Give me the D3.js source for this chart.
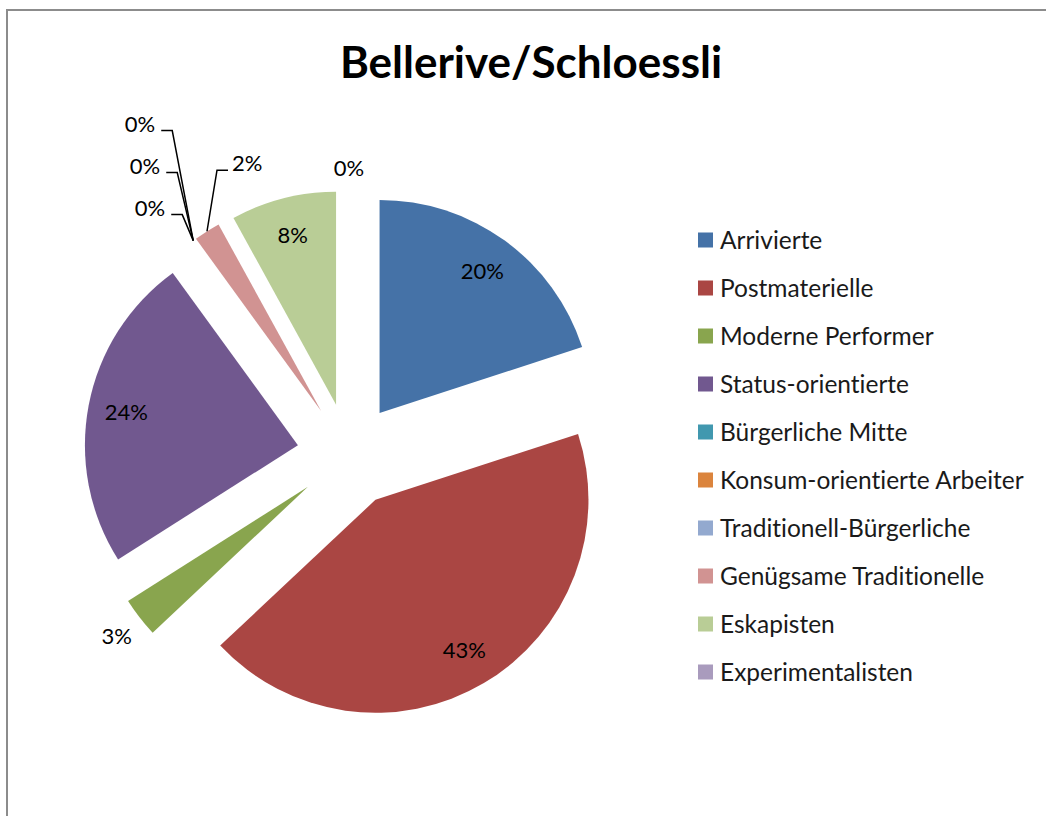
<!DOCTYPE html>
<html>
<head>
<meta charset="utf-8">
<script src="https://cdn.jsdelivr.net/npm/d3@7"></script>
<style>
  body { margin: 0; background: #fff; }
  text { font-family: Lato, "Open Sans", sans-serif; font-variant-ligatures: none; }
</style>
</head>
<body>
<div id="chart"></div>
<script>
var categories = ["Arrivierte", "Postmaterielle", "Moderne Performer", "Status-orientierte",
  "Bürgerliche Mitte", "Konsum-orientierte Arbeiter", "Traditionell-Bürgerliche",
  "Genügsame Traditionelle", "Eskapisten", "Experimentalisten"];
var shares = [20, 43, 3, 24, 0, 0, 0, 2, 8, 0];
var colours = ["#4572A7", "#AA4643", "#89A54E", "#71588F", "#4198AF",
  "#DB843D", "#93A9CF", "#D19392", "#B9CD96", "#A99BBD"];
var title = "Bellerive/Schloessli";

function init() {
  var w = 1046;
  var h = 816;

  var cx = 349, cy = 455;
  var r = 213;
  var explode = 52;

  var svg = d3.select("#chart")
    .append("svg")
    .attr("width", w)
    .attr("height", h);

  // chart frame (only top and left edges visible)
  svg.append("path")
    .attr("d", "M7," + (h + 5) + " V10 H" + (w + 5))
    .attr("fill", "none")
    .attr("stroke", "#8c8c8c")
    .attr("stroke-width", 2);

  svg.append("text")
    .attr("x", 531)
    .attr("y", 78)
    .attr("text-anchor", "middle")
    .style("font-size", "44px")
    .style("font-weight", "bold")
    .text(title);

  var data = categories.map(function(c, i) {
    return { name: c, value: shares[i], colour: colours[i] };
  });

  var pie = d3.pie()
    .sort(null)
    .value(function(d) { return d.value; });

  var arcs = pie(data);

  var arc = d3.arc()
    .innerRadius(0)
    .outerRadius(r);

  function mid(d) { return (d.startAngle + d.endAngle) / 2; }
  function dir(a) { return [Math.sin(a), -Math.cos(a)]; }

  var g = svg.append("g")
    .attr("transform", "translate(" + cx + "," + cy + ")");

  g.selectAll("path.slice")
    .data(arcs)
    .enter()
    .append("path")
    .attr("class", "slice")
    .attr("d", arc)
    .attr("fill", function(d) { return d.data.colour; })
    .attr("transform", function(d) {
      var v = dir(mid(d));
      return "translate(" + (v[0] * explode) + "," + (v[1] * explode) + ")";
    });

  // labels
  var fs = "22px";
  var zeroGroup = 0;
  arcs.forEach(function(d, i) {
    var a = mid(d);
    var v = dir(a);
    var ox = v[0] * explode, oy = v[1] * explode;
    var label = d.data.value + "%";
    var span = d.endAngle - d.startAngle;

    if (span > 0.5) {
      // inside label
      g.append("text")
        .attr("x", ox + v[0] * r * 0.82)
        .attr("y", oy + v[1] * r * 0.82)
        .attr("dy", "0.35em")
        .attr("text-anchor", "middle")
        .style("font-size", fs)
        .text(label);
    } else if (d.data.value > 0 && span > 0.15) {
      // outside, no leader
      g.append("text")
        .attr("x", ox + v[0] * (r + 29))
        .attr("y", oy + v[1] * (r + 31))
        .attr("dy", "0.35em")
        .attr("text-anchor", "middle")
        .style("font-size", fs)
        .text(label);
    } else if (i === arcs.length - 1) {
      // last zero slice at the top
      g.append("text")
        .attr("x", ox + v[0] * (r + 22))
        .attr("y", oy + v[1] * (r + 22))
        .attr("dy", "0.35em")
        .attr("text-anchor", "middle")
        .style("font-size", fs)
        .text(label);
    } else {
      // leader line labels
      var px = ox + v[0] * r, py = oy + v[1] * r;
      var pts, tx, anchor, ey;
      if (d.data.value > 0) {
        ey = py - 61;
        pts = [[px, py], [px + 10, ey], [px + 21, ey]];
        tx = px + 25; anchor = "start";
      } else {
        var k = zeroGroup++;
        ey = py - 26 - 42 * k;
        var ex = px - 11 - 5 * k;
        pts = [[px, py], [ex, ey], [ex - 11, ey]];
        tx = ex - 17; anchor = "end";
      }
      g.append("path")
        .attr("d", d3.line()(pts))
        .attr("fill", "none")
        .attr("stroke", "#000")
        .attr("stroke-width", 1.5);
      g.append("text")
        .attr("x", tx)
        .attr("y", ey)
        .attr("dy", "0.05em")
        .attr("text-anchor", anchor)
        .style("font-size", fs)
        .text(label);
    }
  });

  // legend
  var legend = svg.append("g")
    .attr("transform", "translate(698,240)");

  var item = legend.selectAll("g")
    .data(data)
    .enter()
    .append("g")
    .attr("transform", function(d, i) { return "translate(0," + (i * 48) + ")"; });

  item.append("rect")
    .attr("x", 0)
    .attr("y", -7.5)
    .attr("width", 15)
    .attr("height", 15)
    .attr("fill", function(d) { return d.colour; });

  item.append("text")
    .attr("x", 22)
    .attr("y", 0)
    .attr("dy", "0.35em")
    .style("font-size", "24.5px")
    .style("fill", "#1a1a1a")
    .text(function(d) { return d.name; });
}

window.onload = init;
</script>
</body>
</html>
